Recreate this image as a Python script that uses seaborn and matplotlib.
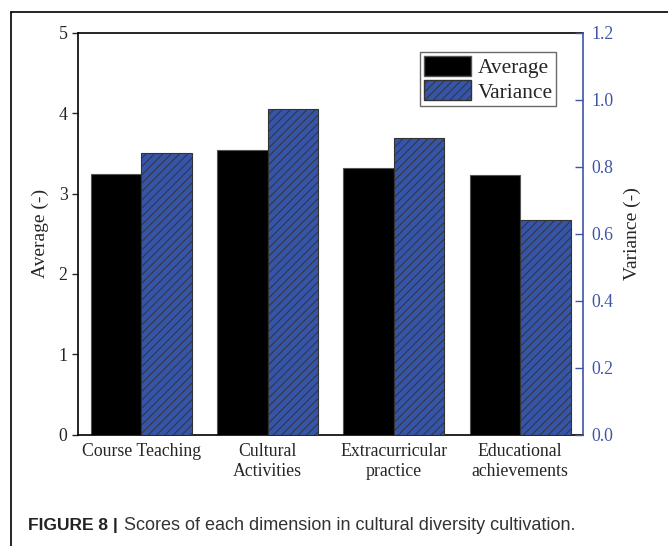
import matplotlib
matplotlib.use("Agg")
import matplotlib.pyplot as plt
import matplotlib.patches as mpatches
from matplotlib.lines import Line2D
import numpy as np
import pandas as pd
import seaborn as sns

# data
categories = ["Course Teaching", "Cultural\nActivities", "Extracurricular\npractice", "Educational\nachievements"]
average = [3.24, 3.54, 3.32, 3.23]
variance = [0.842, 0.974, 0.887, 0.642]

blue = "#3655a8"
tick_blue = "#3f55a8"

sns.set_style("white")
plt.rcParams["font.family"] = ["Liberation Serif", "DejaVu Serif"]
plt.rcParams["hatch.color"] = "#1a1a1a"
plt.rcParams["hatch.linewidth"] = 0.7

df = pd.DataFrame({"dimension": categories, "average": average, "variance": variance})

fig = plt.figure(figsize=(6.68, 5.46), dpi=100)
ax1 = fig.add_axes([78 / 668, 1 - 434.8 / 546, 505 / 668, 402 / 546])
ax2 = ax1.twinx()

sns.barplot(data=df, x="dimension", y="average", ax=ax1, color="black",
            width=0.4, saturation=1, edgecolor="#555555", linewidth=0.8)
sns.barplot(data=df, x="dimension", y="variance", ax=ax2, color=blue,
            width=0.4, saturation=1, edgecolor="#333333", linewidth=0.8,
            hatch="////")

# put the two series side by side within each group
for p in ax1.patches:
    p.set_x(p.get_x() - 0.2)
for p in ax2.patches:
    p.set_x(p.get_x() + 0.2)

ax1.set_xlim(-0.503, 3.498)
ax1.set_ylim(0, 5)
ax2.set_ylim(0, 1.2)
ax1.set_yticks([0, 1, 2, 3, 4, 5])
ax2.set_yticks(np.arange(0, 1.21, 0.2))
ax2.set_yticklabels([f"{v:.1f}" for v in np.arange(0, 1.21, 0.2)])

ax1.set_xlabel("")
ax2.set_xlabel("")
ax1.set_ylabel("Average (-)", fontsize=14, labelpad=7)
ax2.set_ylabel("Variance (-)", fontsize=14, labelpad=7)

ax1.tick_params(axis="x", length=0, labelsize=12.8, pad=6)
ax1.tick_params(axis="y", direction="out", length=4, width=1, labelsize=12.8, left=True)
ax2.tick_params(axis="y", direction="in", length=6, width=1, labelsize=12.8,
                colors=tick_blue, right=True, pad=6)

for s in ["left", "bottom", "top"]:
    ax1.spines[s].set_color("black")
    ax1.spines[s].set_linewidth(1.2)
ax1.spines["right"].set_visible(False)
for s in ["left", "bottom", "top"]:
    ax2.spines[s].set_visible(False)
ax2.spines["right"].set_color(tick_blue)
ax2.spines["right"].set_linewidth(1.2)

handles = [mpatches.Patch(facecolor="black", edgecolor="#555555", label="Average"),
           mpatches.Patch(facecolor=blue, edgecolor="#333333", hatch="////", label="Variance")]
leg = ax2.legend(handles=handles, loc="upper right", bbox_to_anchor=(0.946, 0.951),
                 fontsize=15.5, frameon=True, fancybox=False, edgecolor="#444444",
                 handlelength=2.2, handleheight=1.05, handletextpad=0.3,
                 borderpad=0.15, labelspacing=0.1, borderaxespad=0)
leg.get_frame().set_linewidth(1.0)

# figure frame (top and left rules)
fig.add_artist(Line2D([11 / 668, 1], [1 - 12 / 546, 1 - 12 / 546], color="black", lw=1.2))
fig.add_artist(Line2D([11 / 668, 11 / 668], [0, 1 - 12 / 546], color="black", lw=1.2))

fig.text(28 / 668, 1 - 525.7 / 546, "FIGURE 8 |", fontsize=12.5, fontweight="bold",
         family=["Liberation Sans", "DejaVu Sans"], color="#222222", va="center")
fig.text(124 / 668, 1 - 525.7 / 546, "Scores of each dimension in cultural diversity cultivation.",
         fontsize=13, family=["Liberation Sans", "DejaVu Sans"], color="#333333", va="center")

fig.savefig("out.png", dpi=100)
